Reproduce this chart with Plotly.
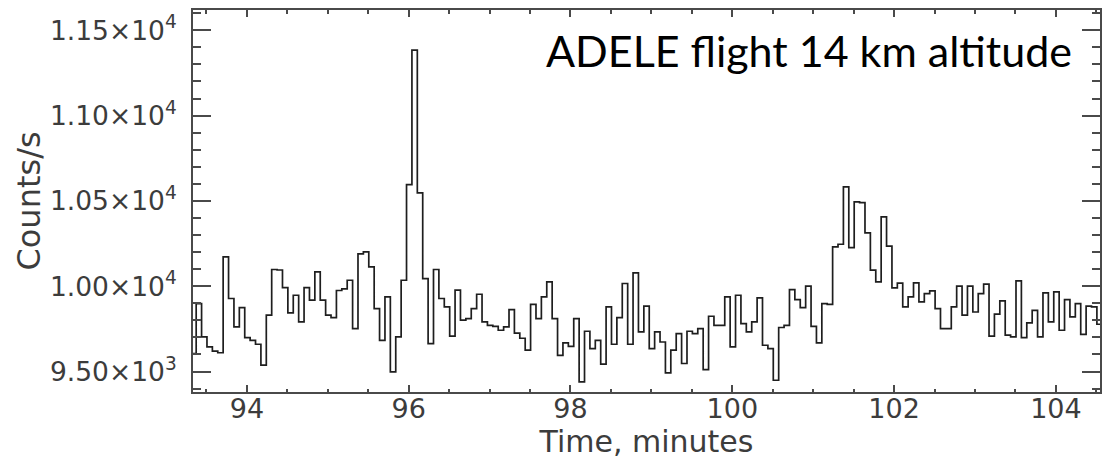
import numpy as np
import plotly.graph_objects as go

# 4-second count-rate bins (time in minutes)
bin_start = 93.3067
bin_width = 1.0 / 15.0

counts = [
    9605, 9898, 9703, 9644, 9620, 9610, 10172, 9928, 9762, 9875,
    9699, 9683, 9660, 9537, 9830, 10098, 10095, 9992, 9844, 9947,
    9791, 9992, 9918, 10084, 9918, 9830, 9816, 9975, 9985, 10035,
    9752, 10190, 10201, 10113, 9869, 9683, 9937, 9498, 9703, 10035,
    10596, 11384, 10547, 10045, 9664, 10098, 9928, 9879, 9707, 9977,
    9801, 9810, 9869, 9953, 9791, 9771, 9765, 9742, 9762, 9863,
    9725, 9695, 9625, 9894, 9810, 9937, 10025, 9810, 9595, 9668,
    9648, 9810, 9439, 9736, 9634, 9683, 9543, 9879, 9660, 9816,
    10016, 9660, 10078, 9732, 9883, 9634, 9732, 9673, 9492, 9625,
    9722, 9547, 9736, 9722, 9752, 9511, 9824, 9771, 9771, 9937,
    9644, 9947, 9781, 9732, 9791, 9932, 9654, 9634, 9449, 9758,
    9771, 9980, 9922, 9875, 10000, 9765, 9668, 9898, 9894, 10231,
    10246, 10582, 10226, 10494, 10490, 10313, 10094, 10025, 10407, 10235,
    9990, 10018, 9879, 9937, 10020, 9908, 9957, 9973, 9869, 9752,
    9752, 9879, 10000, 9830, 10000, 9849, 9957, 10012, 9707, 9836,
    9914, 9713, 9703, 10031, 9699, 9785, 9859, 9703, 9961, 9791,
    9967, 9742, 9922, 9820, 9898, 9718, 9883, 9879, 9777,
]

x_ticks = [94, 96, 98, 100, 102, 104]
y_ticks = [9500, 10000, 10500, 11000, 11500]
y_tick_text = ["9.50×10<sup>3</sup>", "1.00×10<sup>4</sup>", "1.05×10<sup>4</sup>",
               "1.10×10<sup>4</sup>", "1.15×10<sup>4</sup>"]

title_text = "ADELE flight 14 km altitude"

# bin edges; the last value is repeated so the final bin gets drawn
edges = bin_start + bin_width * np.arange(len(counts) + 1)
levels = counts + [counts[-1]]

fig = go.Figure()
fig.add_trace(go.Scatter(
    x=edges, y=levels, mode="lines",
    line=dict(shape="hv", color="#1e1e1e", width=1.7),
    hoverinfo="skip", showlegend=False,
))

axis_color = "#4a4a4a"
text_color = "#3c3c3c"

fig.update_xaxes(
    range=[93.334, 104.545],
    tickvals=x_ticks, ticktext=[str(v) for v in x_ticks],
    ticks="inside", ticklen=7, tickwidth=1.5, tickcolor=axis_color,
    minor=dict(ticks="inside", ticklen=3.5, dtick=0.5, tick0=94,
               tickcolor=axis_color, tickwidth=1.5),
    showline=True, linecolor=axis_color, linewidth=2, mirror="allticks",
    showgrid=False, zeroline=False,
    tickfont=dict(family="DejaVu Sans", size=27, color=text_color),
    ticklabelstandoff=-8,
    title=dict(text="Time, minutes", font=dict(family="DejaVu Sans", size=30, color=text_color),
               standoff=3),
)
fig.update_yaxes(
    range=[9380, 11619],
    tickvals=y_ticks, ticktext=y_tick_text,
    ticks="inside", ticklen=18, tickwidth=1.5, tickcolor=axis_color,
    minor=dict(ticks="inside", ticklen=8, dtick=100, tick0=9500,
               tickcolor=axis_color, tickwidth=1.5),
    showline=True, linecolor=axis_color, linewidth=2, mirror="allticks",
    showgrid=False, zeroline=False,
    tickfont=dict(family="DejaVu Sans", size=26.5, color=text_color),
    ticklabelstandoff=9,
    title=dict(text="Counts/s", font=dict(family="DejaVu Sans", size=32, color=text_color),
               standoff=0),
)

# caption placed by its pixel row inside the plot area
plot_top, plot_bottom = 10, 391.7
caption_row = 50
fig.add_annotation(
    x=0.387, y=(plot_bottom - caption_row) / (plot_bottom - plot_top),
    xref="paper", yref="paper",
    text=title_text, showarrow=False, xanchor="left", yanchor="middle",
    font=dict(family="Lato", size=43, color="#000000"),
)

fig.update_layout(
    width=1105, height=460,
    margin=dict(l=193, r=3, t=10, b=68),
    paper_bgcolor="white", plot_bgcolor="white",
)

fig.write_html("out.html")
